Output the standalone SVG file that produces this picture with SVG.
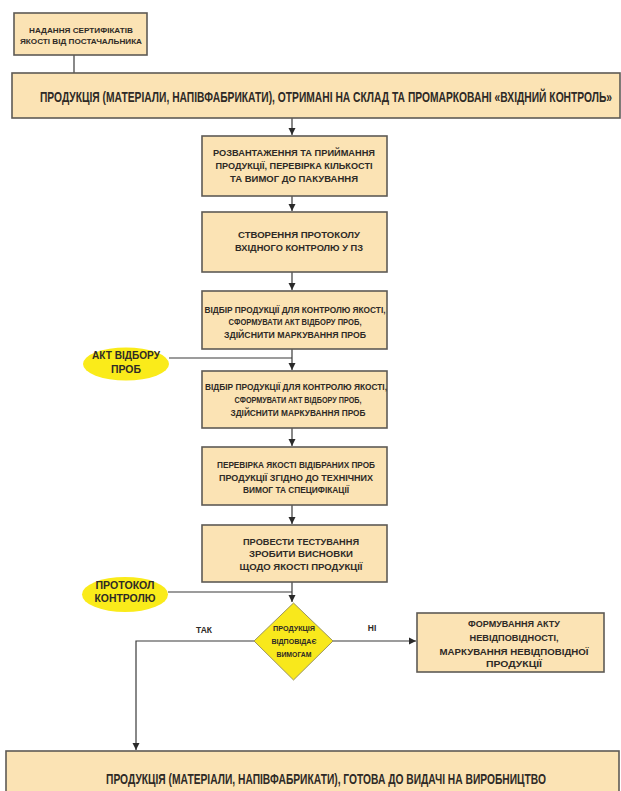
<svg xmlns="http://www.w3.org/2000/svg" width="621" height="791" viewBox="0 0 621 791">
<defs>
<style>
.box{fill:#fbe3b4;stroke:#5e5a55;stroke-width:1.6}
.ell{fill:#faeb1a;stroke:none}
.dia{fill:#f8e81c;stroke:#9a9460;stroke-width:1}
.t{font-family:"Liberation Sans Narrow","Liberation Sans",Arial,sans-serif;font-weight:bold;fill:#2e2a26;text-anchor:middle}
.c{fill:none;stroke:#3a3a3a;stroke-width:1.2}
</style>
<marker id="arr" markerWidth="8" markerHeight="8" refX="7" refY="4" orient="auto" markerUnits="userSpaceOnUse">
<path d="M0,0.5 L7,4 L0,7.5 Z" fill="#2a2a2a"/>
</marker>
</defs>
<rect width="621" height="791" fill="#ffffff"/>

<g id="connectors">
<path class="c" d="M74,55 V73"/>
<path class="c" d="M292,118 V135" marker-end="url(#arr)"/>
<path class="c" d="M292,196 V211" marker-end="url(#arr)"/>
<path class="c" d="M292,272 V290" marker-end="url(#arr)"/>
<path class="c" d="M292,349 V370" marker-end="url(#arr)"/>
<path class="c" d="M169,358 H292"/>
<path class="c" d="M292,428 V446" marker-end="url(#arr)"/>
<path class="c" d="M292,505 V524" marker-end="url(#arr)"/>
<path class="c" d="M292,582 V602" marker-end="url(#arr)"/>
<path class="c" d="M168,592 H292"/>
<path class="c" d="M333,641 H416" marker-end="url(#arr)"/>
<path class="c" d="M254,641 H136 V750" marker-end="url(#arr)"/>
</g>

<g id="n-cert">
<rect class="box" x="14" y="13" width="133" height="42"/>
<text class="t" font-size="7.5"><tspan x="81" y="33" textLength="104" lengthAdjust="spacingAndGlyphs">НАДАННЯ СЕРТИФІКАТІВ</tspan><tspan x="81" y="44" textLength="122" lengthAdjust="spacingAndGlyphs">ЯКОСТІ ВІД ПОСТАЧАЛЬНИКА</tspan></text>
</g>

<g id="n-in">
<rect class="box" x="12" y="73" width="608" height="45"/>
<text class="t" font-size="15" transform="translate(326,102) scale(0.64,1)" x="0" y="0" textLength="894" lengthAdjust="spacingAndGlyphs">ПРОДУКЦІЯ (МАТЕРІАЛИ, НАПІВФАБРИКАТИ), ОТРИМАНІ НА СКЛАД ТА ПРОМАРКОВАНІ «ВХІДНИЙ КОНТРОЛЬ»</text>
</g>

<g id="n1">
<rect class="box" x="202" y="136" width="185" height="60"/>
<text class="t" font-size="8.5"><tspan x="294" y="156" textLength="162" lengthAdjust="spacingAndGlyphs">РОЗВАНТАЖЕННЯ ТА ПРИЙМАННЯ</tspan><tspan x="294" y="169" textLength="157" lengthAdjust="spacingAndGlyphs">ПРОДУКЦІЇ, ПЕРЕВІРКА КІЛЬКОСТІ</tspan><tspan x="294" y="182" textLength="128" lengthAdjust="spacingAndGlyphs">ТА ВИМОГ ДО ПАКУВАННЯ</tspan></text>
</g>

<g id="n2">
<rect class="box" x="202" y="212" width="185" height="60"/>
<text class="t" font-size="8.5"><tspan x="299" y="238" textLength="122" lengthAdjust="spacingAndGlyphs">СТВОРЕННЯ ПРОТОКОЛУ</tspan><tspan x="299" y="251" textLength="128" lengthAdjust="spacingAndGlyphs">ВХІДНОГО КОНТРОЛЮ У ПЗ</tspan></text>
</g>

<g id="n3">
<rect class="box" x="202" y="291" width="185" height="58"/>
<text class="t" font-size="8.5"><tspan x="295" y="313" textLength="181" lengthAdjust="spacingAndGlyphs">ВІДБІР ПРОДУКЦІЇ ДЛЯ КОНТРОЛЮ ЯКОСТІ,</tspan><tspan x="295" y="325" textLength="133" lengthAdjust="spacingAndGlyphs">СФОРМУВАТИ АКТ ВІДБОРУ ПРОБ,</tspan><tspan x="295" y="338" textLength="142" lengthAdjust="spacingAndGlyphs">ЗДІЙСНИТИ МАРКУВАННЯ ПРОБ</tspan></text>
</g>

<g id="e-akt">
<ellipse class="ell" cx="126" cy="364" rx="43" ry="16.5"/>
<text class="t" font-size="10.5"><tspan x="126" y="359" textLength="68" lengthAdjust="spacingAndGlyphs">АКТ ВІДБОРУ</tspan><tspan x="126" y="373" textLength="30" lengthAdjust="spacingAndGlyphs">ПРОБ</tspan></text>
</g>

<g id="n4">
<rect class="box" x="202" y="371" width="185" height="57"/>
<text class="t" font-size="8.5"><tspan x="296" y="390" textLength="182" lengthAdjust="spacingAndGlyphs">ВІДБІР ПРОДУКЦІЇ ДЛЯ КОНТРОЛЮ ЯКОСТІ,</tspan><tspan x="298" y="403" textLength="127" lengthAdjust="spacingAndGlyphs">СФОРМУВАТИ АКТ ВІДБОРУ ПРОБ,</tspan><tspan x="298" y="416" textLength="135" lengthAdjust="spacingAndGlyphs">ЗДІЙСНИТИ МАРКУВАННЯ ПРОБ</tspan></text>
</g>

<g id="n5">
<rect class="box" x="202" y="447" width="185" height="58"/>
<text class="t" font-size="8.5"><tspan x="296" y="468" textLength="158" lengthAdjust="spacingAndGlyphs">ПЕРЕВІРКА ЯКОСТІ ВІДІБРАНИХ ПРОБ</tspan><tspan x="296" y="481" textLength="154" lengthAdjust="spacingAndGlyphs">ПРОДУКЦІЇ ЗГІДНО ДО ТЕХНІЧНИХ</tspan><tspan x="296" y="493" textLength="106" lengthAdjust="spacingAndGlyphs">ВИМОГ ТА СПЕЦИФІКАЦІЇ</tspan></text>
</g>

<g id="n6">
<rect class="box" x="202" y="525" width="185" height="57"/>
<text class="t" font-size="9.5"><tspan x="301" y="545" textLength="116" lengthAdjust="spacingAndGlyphs">ПРОВЕСТИ ТЕСТУВАННЯ</tspan><tspan x="301" y="557" textLength="104" lengthAdjust="spacingAndGlyphs">ЗРОБИТИ ВИСНОВКИ</tspan><tspan x="301" y="570" textLength="123" lengthAdjust="spacingAndGlyphs">ЩОДО ЯКОСТІ ПРОДУКЦІЇ</tspan></text>
</g>

<g id="e-prot">
<ellipse class="ell" cx="125" cy="594.5" rx="43" ry="17.5"/>
<text class="t" font-size="10.5"><tspan x="125" y="589" textLength="59" lengthAdjust="spacingAndGlyphs">ПРОТОКОЛ</tspan><tspan x="125" y="602" textLength="61" lengthAdjust="spacingAndGlyphs">КОНТРОЛЮ</tspan></text>
</g>

<g id="d-check">
<polygon class="dia" points="293.5,603 333,641 293.5,680 254,641"/>
<text class="t" font-size="7.5"><tspan x="294" y="631" textLength="42" lengthAdjust="spacingAndGlyphs">ПРОДУКЦІЯ</tspan><tspan x="294" y="644" textLength="45" lengthAdjust="spacingAndGlyphs">ВІДПОВІДАЄ</tspan><tspan x="294" y="657" textLength="35" lengthAdjust="spacingAndGlyphs">ВИМОГАМ</tspan></text>
</g>

<g id="labels">
<text class="t" font-size="8.5" x="204" y="633" textLength="16" lengthAdjust="spacingAndGlyphs">ТАК</text>
<text class="t" font-size="8.5" x="372" y="631">НІ</text>
</g>

<g id="n-nc">
<rect class="box" x="417" y="613" width="187" height="59"/>
<text class="t" font-size="8.5"><tspan x="514" y="627" textLength="92" lengthAdjust="spacingAndGlyphs">ФОРМУВАННЯ АКТУ</tspan><tspan x="514" y="641" textLength="89" lengthAdjust="spacingAndGlyphs">НЕВІДПОВІДНОСТІ,</tspan><tspan x="514" y="655" textLength="149" lengthAdjust="spacingAndGlyphs">МАРКУВАННЯ НЕВІДПОВІДНОЇ</tspan><tspan x="514" y="667" textLength="56" lengthAdjust="spacingAndGlyphs">ПРОДУКЦІЇ</tspan></text>
</g>

<g id="n-out">
<rect class="box" x="6" y="751" width="613" height="45"/>
<text class="t" font-size="15" transform="translate(326,784) scale(0.78,1)" x="0" y="0" textLength="564" lengthAdjust="spacingAndGlyphs">ПРОДУКЦІЯ (МАТЕРІАЛИ, НАПІВФАБРИКАТИ), ГОТОВА ДО ВИДАЧІ НА ВИРОБНИЦТВО</text>
</g>
</svg>
